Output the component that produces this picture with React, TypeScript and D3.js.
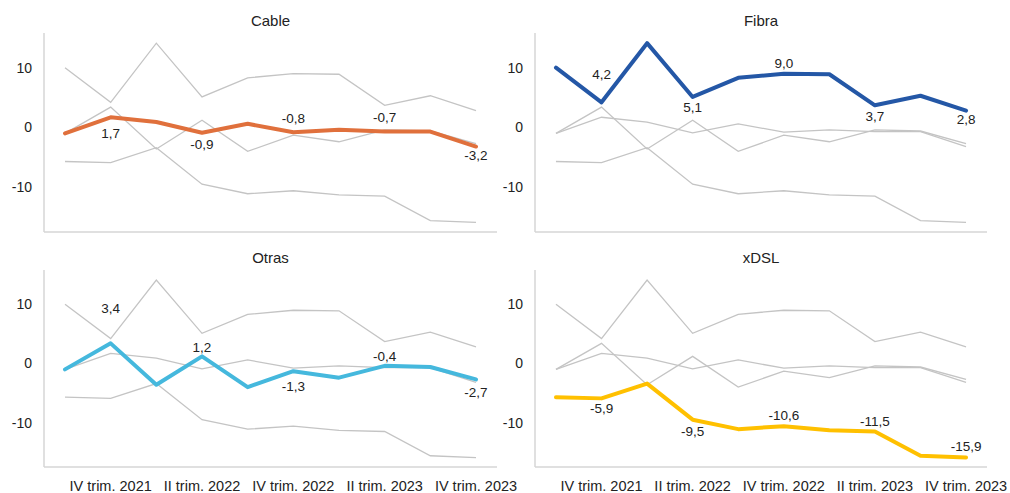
import React from "react";
import * as d3 from "d3";

const quarters = [
  "III trim. 2021", "IV trim. 2021", "I trim. 2022", "II trim. 2022", "III trim. 2022",
  "IV trim. 2022", "I trim. 2023", "II trim. 2023", "III trim. 2023", "IV trim. 2023",
];
const tickLabels = ["IV trim. 2021", "II trim. 2022", "IV trim. 2022", "II trim. 2023", "IV trim. 2023"];
const yTicks = [-10, 0, 10];

const seriesNames = ["Cable", "Fibra", "Otras", "xDSL"];
const cable = [-1.0, 1.7, 0.9, -0.9, 0.6, -0.8, -0.4, -0.7, -0.7, -3.2];
const fibra = [10.0, 4.2, 14.1, 5.1, 8.3, 9.0, 8.9, 3.7, 5.3, 2.8];
const otras = [-1.0, 3.4, -3.6, 1.2, -4.0, -1.3, -2.4, -0.4, -0.6, -2.7];
const xdsl = [-5.7, -5.9, -3.4, -9.5, -11.1, -10.6, -11.3, -11.5, -15.6, -15.9];
const seriesValues = [cable, fibra, otras, xdsl];

// styling / label placement (not data)
const colors = ["#E0703C", "#2457A6", "#45B8DD", "#FFC000"];
const labelDy = [
  [16, 11, -14, -14, 9],
  [-28, 10, -10, 11, 9],
  [-35, -9, 15, -10, 13],
  [10, 12, -11, -10, -11],
];

const fmt = (v: number) => v.toFixed(1).replace(".", ",");
const FONT = "Liberation Sans, Arial, sans-serif";

type PanelProps = { idx: number; x0: number; x1: number; yTop: number; yBot: number; titleY: number; showX: boolean };

function Panel({ idx, x0, x1, yTop, yBot, titleY, showX }: PanelProps) {
  const x = d3.scalePoint<string>().domain(quarters).range([x0, x1]).padding(0.46);
  const y = d3.scaleLinear().domain([-17.5, 15.8]).range([yBot, yTop]);
  const line = d3
    .line<number>()
    .x((_, i) => x(quarters[i]) as number)
    .y((d) => y(d));
  const others = seriesValues.map((v, i) => i).filter((i) => i !== idx);
  const main = seriesValues[idx];
  return (
    <g>
      <text x={(x0 + x1) / 2} y={titleY} textAnchor="middle" fontSize={15} fill="#222" fontFamily={FONT}>
        {seriesNames[idx]}
      </text>
      <line x1={x0} x2={x0} y1={yTop} y2={yBot} stroke="#d6d6d6" strokeWidth={1.5} />
      <line x1={x0} x2={x1} y1={yBot} y2={yBot} stroke="#d6d6d6" strokeWidth={1.5} />
      {yTicks.map((t) => (
        <text key={t} x={x0 - 12} y={y(t)} dy="0.35em" textAnchor="end" fontSize={14} fill="#222" fontFamily={FONT}>
          {t}
        </text>
      ))}
      {others.map((i) => (
        <path key={i} d={line(seriesValues[i]) || ""} fill="none" stroke="#c4c4c4" strokeWidth={1.3} />
      ))}
      <path d={line(main) || ""} fill="none" stroke={colors[idx]} strokeWidth={4} strokeLinejoin="round" strokeLinecap="round" />
      {main.map((v, i) =>
        i % 2 === 1 ? (
          <text
            key={i}
            x={x(quarters[i]) as number}
            y={y(v) + labelDy[idx][(i - 1) / 2]}
            dy="0.35em"
            textAnchor="middle"
            fontSize={13.5}
            fill="#222"
            fontFamily={FONT}
          >
            {fmt(v)}
          </text>
        ) : null
      )}
      {showX &&
        tickLabels.map((t) => (
          <text key={t} x={x(t) as number} y={491} textAnchor="middle" fontSize={14.5} fill="#222" fontFamily={FONT}>
            {t}
          </text>
        ))}
    </g>
  );
}

export default function App() {
  return (
    <svg width={1010} height={493} style={{ position: "absolute", left: 0, top: 0, background: "#fff" }}>
      <rect width={1010} height={493} fill="#fff" />
      <Panel idx={0} x0={44} x1={497} yTop={33} yBot={232} titleY={26} showX={false} />
      <Panel idx={1} x0={535} x1={987} yTop={33} yBot={232} titleY={26} showX={false} />
      <Panel idx={2} x0={44} x1={497} yTop={270} yBot={467} titleY={263} showX={true} />
      <Panel idx={3} x0={535} x1={987} yTop={270} yBot={467} titleY={263} showX={true} />
    </svg>
  );
}
